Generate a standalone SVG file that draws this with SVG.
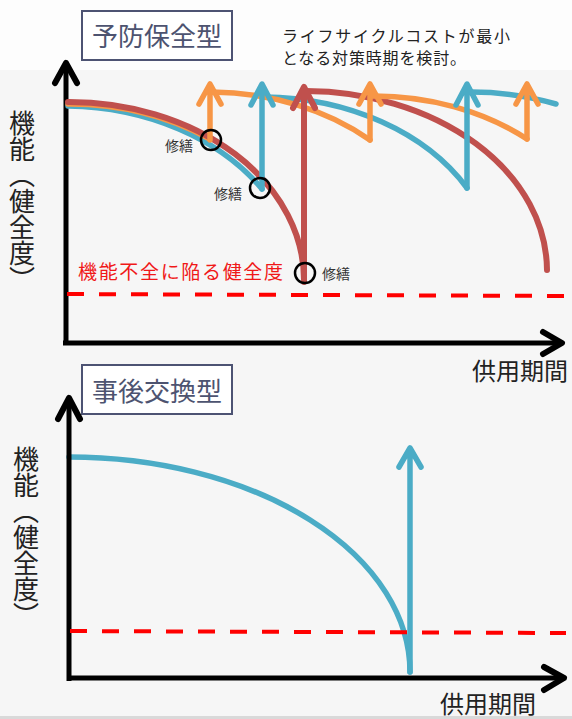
<svg xmlns="http://www.w3.org/2000/svg" width="572" height="719" viewBox="0 0 572 719">
<style>
text{font-family:"Noto Sans CJK JP","Noto Sans",sans-serif}
.axis{stroke:#000;stroke-width:5;fill:none}
.ah{stroke:#000;stroke-width:6;fill:none;stroke-linecap:round;stroke-linejoin:round}
.red{stroke:#c0504d;stroke-width:6;fill:none;stroke-linecap:round;stroke-linejoin:round}
.teal{stroke:#4bacc6;stroke-width:5.5;fill:none;stroke-linecap:round;stroke-linejoin:round}
.org{stroke:#f79646;stroke-width:5.5;fill:none;stroke-linecap:round;stroke-linejoin:round}
.dash{stroke:#ff0000;stroke-width:4;stroke-dasharray:17 15;fill:none}
.ring{stroke:#000;stroke-width:2.5;fill:none}
.box{fill:#fff;stroke:#4d5373;stroke-width:2}
.ttl{font-size:26px;fill:#4d5370;text-anchor:middle}
.lbl{font-size:24px;fill:#222}
.vlbl{font-size:26px;fill:#222;writing-mode:vertical-rl}
.rep{font-size:14px;fill:#333}
</style>
<rect width="572" height="719" fill="#f6f6f6"/>
<rect width="572" height="70" fill="#fdfdfd"/>
<rect y="716" width="572" height="3" fill="#d9d9d9"/>

<g id="title-preventive">
<rect class="box" x="82" y="11" width="150" height="49"/>
<text class="ttl" x="157" y="46">予防保全型</text>
</g>
<g id="note">
<text x="282" y="42" font-size="16" fill="#222" textLength="228">ライフサイクルコストが最小</text>
<text x="282" y="64" font-size="16" fill="#222" textLength="184">となる対策時期を検討。</text>
</g>

<g id="axes-top">
<line class="axis" x1="66" y1="345" x2="66" y2="66"/>
<polyline class="ah" points="55,83 66,63 77,83"/>
<line class="axis" x1="63" y1="343" x2="560" y2="343"/>
<polyline class="ah" points="543,332 562,343 543,354"/>
<text class="vlbl" x="22" y="110">機能（健全度）</text>
<text class="lbl" x="472" y="380">供用期間</text>
</g>

<g id="threshold-top">
<line class="dash" x1="67" y1="294" x2="566" y2="296"/>
<text x="78" y="279" font-size="19" fill="#f01818" textLength="205">機能不全に陥る健全度</text>
</g>

<g id="connectors">
<path class="teal" d="M68,106 A235,178 0 0 1 262,189"/>
<path class="org" d="M68,104 A235,178 0 0 1 210,139"/>
<path class="red" d="M68,102 A235,178 0 0 1 304,281"/>
<path class="teal" d="M264,97 A235,178 0 0 1 467,188"/>
<path class="teal" d="M469,92 A235,178 0 0 1 556,104"/>
<path class="red" d="M306,91 A242,180 0 0 1 547,270"/>
<path class="org" d="M212,92 A235,178 0 0 1 370,140"/>
<path class="org" d="M372,96 A235,178 0 0 1 527,139"/>
<path class="org" d="M210,140 V85 M199,104 L210,84 L221,104"/>
<path class="teal" d="M262,189 V85 M251,105 L262,84 L273,105"/>
<path class="red" d="M304,282 V89 M293,108 L304,87 L315,108"/>
<path class="org" d="M370,140 V85 M359,104 L370,84 L381,104"/>
<path class="teal" d="M467,188 V85 M456,105 L467,84 L478,105"/>
<path class="org" d="M527,139 V85 M516,104 L527,84 L538,104"/>
<path class="teal" d="M69,457 A341,215 0 0 1 410,672"/>
<path class="teal" d="M410,672 V449 M399,467 L410,448 L421,467"/>
</g>

<g id="repair-1">
<circle class="ring" cx="211" cy="140" r="10"/>
<text class="rep" x="165" y="151">修繕</text>
</g>
<g id="repair-2">
<circle class="ring" cx="260" cy="188" r="10"/>
<text class="rep" x="214" y="199">修繕</text>
</g>
<g id="repair-3">
<circle class="ring" cx="305" cy="273" r="10"/>
<text class="rep" x="322" y="279">修繕</text>
</g>

<g id="title-reactive">
<rect class="box" x="82" y="365" width="150" height="49"/>
<text class="ttl" x="157" y="401">事後交換型</text>
</g>

<g id="axes-bottom">
<line class="axis" x1="69" y1="681" x2="69" y2="400"/>
<polyline class="ah" points="58,419 69,398 80,419"/>
<line class="axis" x1="67" y1="678" x2="563" y2="678"/>
<polyline class="ah" points="544,667 564,678 544,690"/>
<text class="vlbl" x="26" y="446">機能（健全度）</text>
<text class="lbl" x="440" y="713">供用期間</text>
</g>

<g id="threshold-bottom">
<line class="dash" x1="70" y1="631" x2="566" y2="633"/>
</g>
</svg>
